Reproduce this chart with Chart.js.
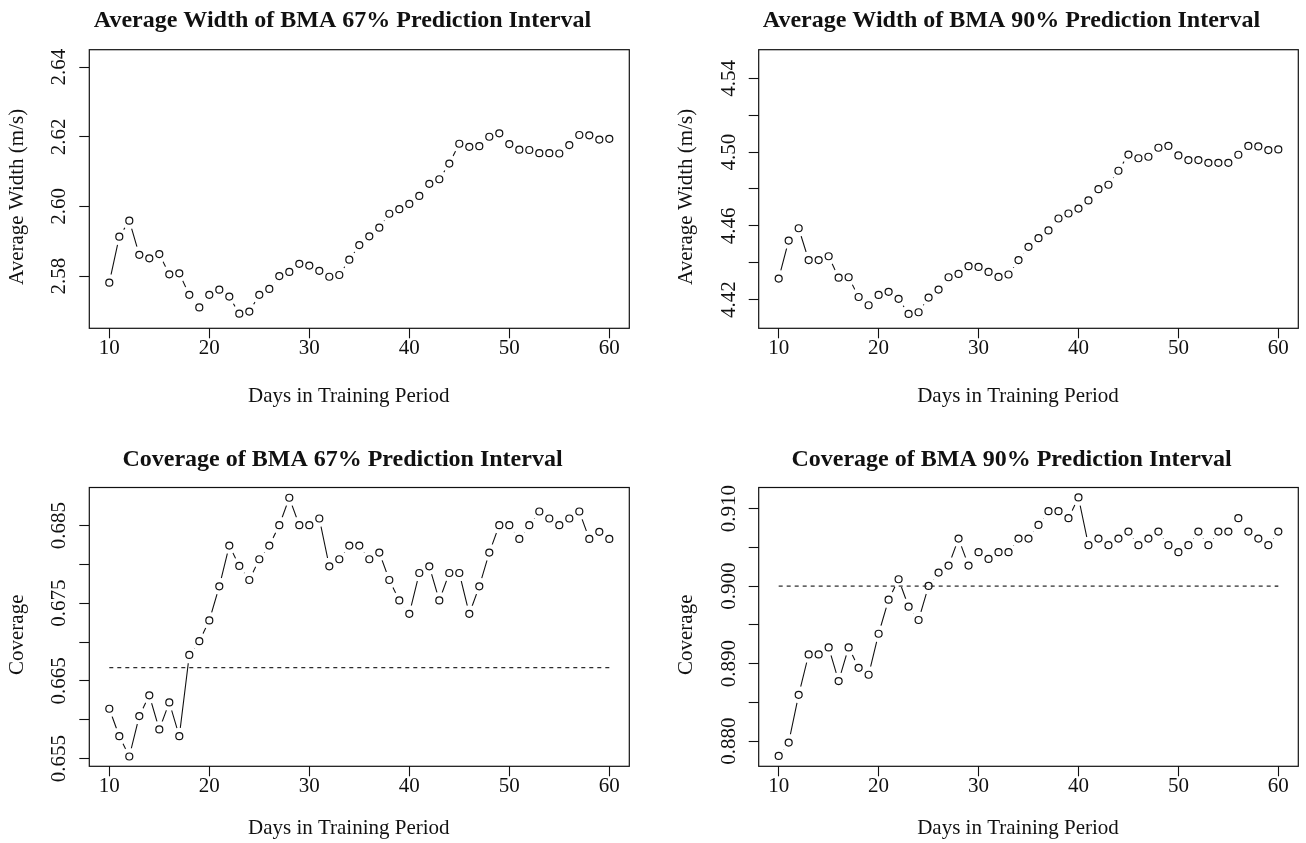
<!DOCTYPE html>
<html>
<head>
<meta charset="utf-8">
<title>BMA prediction interval width and coverage</title>
<script src="https://cdn.jsdelivr.net/npm/chart.js@4.4.1/dist/chart.umd.min.js"></script>
<style>
  html, body { margin: 0; padding: 0; background: #fff; overflow: hidden; }
  body { width: 1306px; height: 843px; position: relative; }
  canvas { position: absolute; }
</style>
</head>
<body>
<canvas id="width67" width="685" height="420" style="left:0;top:0"></canvas>
<canvas id="width90" width="703" height="420" style="left:660px;top:0"></canvas>
<canvas id="cover67" width="685" height="423" style="left:0;top:420px"></canvas>
<canvas id="cover90" width="703" height="423" style="left:660px;top:420px"></canvas>
<script>
// Length of the training period (days)
const trainingDays = [10, 11, 12, 13, 14, 15, 16, 17, 18, 19, 20, 21, 22, 23, 24, 25, 26,
  27, 28, 29, 30, 31, 32, 33, 34, 35, 36, 37, 38, 39, 40, 41, 42, 43, 44, 45, 46, 47, 48,
  49, 50, 51, 52, 53, 54, 55, 56, 57, 58, 59, 60];

// Average width of the BMA prediction intervals (m/s)
const width67 = [2.5781, 2.5913, 2.5959, 2.5861, 2.5851, 2.5863, 2.5805, 2.5808, 2.5746,
  2.5710, 2.5746, 2.5761, 2.5741, 2.5692, 2.5698, 2.5746, 2.5763, 2.5800, 2.5812, 2.5835,
  2.5830, 2.5815, 2.5798, 2.5803, 2.5847, 2.5889, 2.5914, 2.5939, 2.5979, 2.5992, 2.6007,
  2.6030, 2.6065, 2.6078, 2.6123, 2.6180, 2.6171, 2.6173, 2.6200, 2.6210, 2.6179, 2.6163,
  2.6162, 2.6153, 2.6153, 2.6152, 2.6176, 2.6205, 2.6204, 2.6192, 2.6194];
const width90 = [4.4314, 4.4520, 4.4587, 4.4414, 4.4414, 4.4435, 4.4319, 4.4321, 4.4214,
  4.4169, 4.4225, 4.4242, 4.4204, 4.4122, 4.4131, 4.4211, 4.4254, 4.4321, 4.4339, 4.4381,
  4.4377, 4.4350, 4.4323, 4.4336, 4.4414, 4.4486, 4.4533, 4.4575, 4.4640, 4.4667, 4.4694,
  4.4738, 4.4799, 4.4823, 4.4899, 4.4987, 4.4967, 4.4975, 4.5024, 4.5034, 4.4982, 4.4957,
  4.4957, 4.4942, 4.4942, 4.4942, 4.4986, 4.5034, 4.5031, 4.5011, 4.5015];

// Empirical coverage of the same intervals
const coverage67 = [0.66141, 0.65788, 0.65526, 0.66047, 0.66314, 0.65875, 0.66223, 0.65788,
  0.66834, 0.67011, 0.67278, 0.67717, 0.68242, 0.67980, 0.67799, 0.68066, 0.68242, 0.68505,
  0.68858, 0.68505, 0.68505, 0.68591, 0.67975, 0.68066, 0.68242, 0.68242, 0.68066, 0.68152,
  0.67799, 0.67536, 0.67364, 0.67889, 0.67975, 0.67536, 0.67889, 0.67889, 0.67364, 0.67717,
  0.68152, 0.68505, 0.68505, 0.68328, 0.68505, 0.68681, 0.68591, 0.68505, 0.68591, 0.68681,
  0.68328, 0.68419, 0.68328];
const coverage90 = [0.87811, 0.87983, 0.88598, 0.89119, 0.89119, 0.89210, 0.88775, 0.89210,
  0.88947, 0.88857, 0.89386, 0.89825, 0.90088, 0.89735, 0.89563, 0.90002, 0.90174, 0.90264,
  0.90613, 0.90264, 0.90437, 0.90350, 0.90437, 0.90437, 0.90613, 0.90613, 0.90789, 0.90966,
  0.90966, 0.90876, 0.91143, 0.90527, 0.90613, 0.90527, 0.90613, 0.90703, 0.90527, 0.90613,
  0.90703, 0.90527, 0.90437, 0.90527, 0.90703, 0.90527, 0.90703, 0.90703, 0.90876, 0.90703,
  0.90613, 0.90527, 0.90703];

// Nominal coverage levels (dashed reference lines)
const nominal67 = 0.6667;
const nominal90 = 0.900;

// Axis ticks and their labels
const xTicks = [10, 20, 30, 40, 50, 60];
const width67Ticks = [2.58, 2.60, 2.62, 2.64];
const width67Labels = ['2.58', '2.60', '2.62', '2.64'];
const width90Ticks = [4.42, 4.44, 4.46, 4.48, 4.50, 4.52, 4.54];
const width90Labels = ['4.42', '', '4.46', '', '4.50', '', '4.54'];
const cover67Ticks = [0.655, 0.660, 0.665, 0.670, 0.675, 0.680, 0.685];
const cover67Labels = ['0.655', '', '0.665', '', '0.675', '', '0.685'];
const cover90Ticks = [0.880, 0.885, 0.890, 0.895, 0.900, 0.905, 0.910];
const cover90Labels = ['0.880', '', '0.890', '', '0.900', '', '0.910'];

const INK = '#111';
const SERIF = "'Liberation Serif', 'Times New Roman', serif";

// Box round the plotting region, drawn over the data
const plotFrame = {
    id: 'plotFrame',
    afterDatasetsDraw(chart) {
        const { ctx, chartArea: a } = chart;
        ctx.save();
        ctx.strokeStyle = INK;
        ctx.lineWidth = 1.2;
        ctx.strokeRect(a.left, a.top, a.right - a.left, a.bottom - a.top);
        ctx.restore();
    }
};

function axisGrid() {
    return { drawOnChartArea: false, drawTicks: true, tickLength: 10, tickColor: INK, tickWidth: 1.1 };
}

function drawPanel(canvasId, cfg) {
    const series = trainingDays.map((d, i) => ({ x: d, y: cfg.values[i] }));
    const datasets = [];

    if (cfg.nominal !== undefined) {
        datasets.push({
            data: [
                { x: trainingDays[0], y: cfg.nominal },
                { x: trainingDays[trainingDays.length - 1], y: cfg.nominal }
            ],
            borderColor: INK,
            borderWidth: 1.1,
            borderDash: [4, 4],
            pointRadius: 0
        });
    }

    // open circles
    datasets.push({
        data: series,
        showLine: false,
        pointRadius: 3.5,
        pointBorderWidth: 1.2,
        pointBorderColor: INK,
        pointBackgroundColor: 'rgba(0,0,0,0)'
    });

    // joining segments; the white disc round each point leaves the usual gap
    datasets.push({
        data: series,
        borderColor: INK,
        borderWidth: 1.1,
        tension: 0,
        pointRadius: 8.5,
        pointBorderWidth: 0,
        pointBorderColor: '#fff',
        pointBackgroundColor: '#fff'
    });

    new Chart(document.getElementById(canvasId), {
        type: 'line',
        data: { datasets },
        plugins: [plotFrame],
        options: {
            responsive: false,
            animation: false,
            events: [],
            layout: { padding: 0 },
            plugins: {
                legend: { display: false },
                tooltip: { enabled: false },
                title: {
                    display: true,
                    text: cfg.title,
                    color: INK,
                    font: { family: SERIF, size: 24, weight: 'bold', lineHeight: 1.2 },
                    padding: { top: cfg.titleTop, bottom: cfg.titleBottom }
                }
            },
            scales: {
                x: {
                    type: 'linear',
                    min: 8,
                    max: 62,
                    afterBuildTicks: scale => { scale.ticks = xTicks.map(v => ({ value: v })); },
                    afterFit: scale => { scale.height = cfg.xAxisHeight; },
                    grid: axisGrid(),
                    border: { display: false },
                    ticks: {
                        color: INK,
                        autoSkip: false,
                        maxRotation: 0,
                        padding: 0,
                        font: { family: SERIF, size: 21, lineHeight: 1 },
                        callback: v => String(v)
                    },
                    title: {
                        display: true,
                        text: 'Days in Training Period    ',
                        color: INK,
                        font: { family: SERIF, size: 21, lineHeight: 1.2 },
                        padding: { top: 0, bottom: cfg.xTitleBottom }
                    }
                },
                y: {
                    min: cfg.yMin,
                    max: cfg.yMax,
                    afterBuildTicks: scale => { scale.ticks = cfg.yTicks.map(v => ({ value: v })); },
                    afterFit: scale => { scale.width = cfg.yAxisWidth; },
                    grid: axisGrid(),
                    border: { display: false },
                    ticks: {
                        color: INK,
                        autoSkip: false,
                        minRotation: 90,
                        maxRotation: 90,
                        crossAlign: 'center',
                        padding: cfg.yTickPad,
                        font: { family: SERIF, size: 21, lineHeight: 1 },
                        callback: (v, i) => cfg.yLabels[i]
                    },
                    title: {
                        display: true,
                        text: cfg.yTitle + '   ',
                        color: INK,
                        font: { family: SERIF, size: 21, lineHeight: 1.2 },
                        padding: { top: cfg.yTitlePad, bottom: 0 }
                    }
                },
                // empty margin on the right of the plot, so the title is centred on the whole figure cell
                margin: {
                    position: 'right',
                    display: true,
                    afterFit: scale => { scale.width = cfg.rightGap; },
                    grid: { display: false },
                    ticks: { display: false },
                    border: { display: false }
                }
            }
        }
    });
}

document.addEventListener('DOMContentLoaded', function() {
    const top = { titleTop: 6.8, titleBottom: 14.1, xAxisHeight: 91.7, xTitleBottom: 10.6 };
    const bottom = { titleTop: 25.3, titleBottom: 13.4, xAxisHeight: 76.7, xTitleBottom: 2.3 };
    const left = { yAxisWidth: 89.3, rightGap: 55.7, yTitlePad: 4.7 };
    const right = { yAxisWidth: 98.7, rightGap: 64.7, yTitlePad: 14.1 };

    drawPanel('width67', Object.assign({}, top, left, {
        title: 'Average Width of BMA 67% Prediction Interval',
        yTitle: 'Average Width (m/s)',
        values: width67, yMin: 2.565, yMax: 2.645,
        yTicks: width67Ticks, yLabels: width67Labels, yTickPad: 1.1
    }));
    drawPanel('width90', Object.assign({}, top, right, {
        title: 'Average Width of BMA 90% Prediction Interval',
        yTitle: 'Average Width (m/s)',
        values: width90, yMin: 4.4044, yMax: 4.5556,
        yTicks: width90Ticks, yLabels: width90Labels, yTickPad: 1.1
    }));
    drawPanel('cover67', Object.assign({}, bottom, left, {
        title: 'Coverage of BMA 67% Prediction Interval',
        yTitle: 'Coverage',
        values: coverage67, nominal: nominal67, yMin: 0.654, yMax: 0.6899,
        yTicks: cover67Ticks, yLabels: cover67Labels, yTickPad: -4.1
    }));
    drawPanel('cover90', Object.assign({}, bottom, right, {
        title: 'Coverage of BMA 90% Prediction Interval',
        yTitle: 'Coverage',
        values: coverage90, nominal: nominal90, yMin: 0.87677, yMax: 0.91271,
        yTicks: cover90Ticks, yLabels: cover90Labels, yTickPad: -4.1
    }));
});
</script>
</body>
</html>
